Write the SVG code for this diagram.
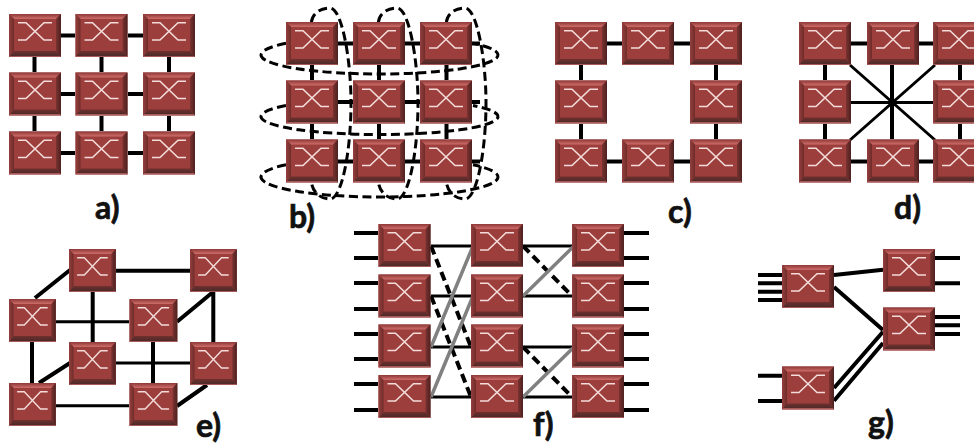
<svg xmlns="http://www.w3.org/2000/svg" xmlns:xlink="http://www.w3.org/1999/xlink" width="974" height="446" viewBox="0 0 974 446">
<style>
.k{stroke:#000;stroke-width:4;fill:none}
.t{stroke:#000;stroke-width:3;fill:none}
.e{stroke:#000;stroke-width:3;fill:none;stroke-dasharray:9 4.5}
.d{stroke:#000;stroke-width:4;fill:none;stroke-dasharray:9 5}
.g{stroke:#808080;stroke-width:3.5;fill:none}
.x{stroke:#f3dcd9;stroke-width:1.6;fill:none}
.l{font-family:Lato,"Open Sans",sans-serif;font-weight:700;font-size:32px;fill:#111;stroke:#111;stroke-width:.7}
</style>
<defs>
<linearGradient id="gt" x1="0" y1="0" x2="0" y2="1"><stop offset="0" stop-color="#8e3837"/><stop offset="1" stop-color="#cf6e6b"/></linearGradient>
<linearGradient id="gb" x1="0" y1="0" x2="0" y2="1"><stop offset="0" stop-color="#6f302e"/><stop offset=".75" stop-color="#4f2a29"/><stop offset=".8" stop-color="#a85a58"/><stop offset="1" stop-color="#a85a58"/></linearGradient>
<linearGradient id="gl" x1="0" y1="0" x2="1" y2="0"><stop offset="0" stop-color="#94403e"/><stop offset="1" stop-color="#6f2c2a"/></linearGradient>
<linearGradient id="gr" x1="0" y1="0" x2="1" y2="0"><stop offset="0" stop-color="#7a3230"/><stop offset="1" stop-color="#4d2120"/></linearGradient>
<g id="sw">
<rect width="52" height="43" fill="#9c3e3c"/>
<polygon points="0,0 52,0 47,5 5,5" fill="url(#gt)"/>
<polygon points="0,0 5,5 5,37 0,43" fill="url(#gl)"/>
<polygon points="52,0 47,5 47,37 52,43" fill="url(#gr)"/>
<polygon points="0,43 5,37 47,37 52,43" fill="url(#gb)"/>
<path class="x" d="M9 8.7H17L35 26H43M9 26H17L35 8.7H43"/>
</g>
<path id="vloop" class="e" d="M311.500 22C312 14 320 8 330 8C342 8 351 60 351 103C351 150 342 199 330 199C320 199 313 192 311.500 183"/>
</defs>
<g id="connectors">
<g id="conn-a"><path class="k" d="M61 35.500H75M128 35.500H143M61 94H75M128 94H143M61 153H75M128 153H143M34.500 57V72M101.500 57V72M169 57V72M34.500 116V131M101.500 116V131M169 116V131"/></g>
<g id="conn-b"><path class="k" d="M338 43.500H353M405 43.500H420M472 43.500H480M338 102H353M405 102H420M472 102H480M338 161.500H353M405 161.500H420M472 161.500H480M312 65V80M379 65V80M446.500 65V80M312 124V139M379 124V139M446.500 124V139"/>
<path class="e" d="M286 43.300A118.500 19 0 1 0 473 43.300"/>
<path class="e" d="M286 105.500A118.500 18 0 1 0 473 105.500"/>
<path class="e" d="M286 164.700A118.500 20 0 1 0 473 164.700"/>
<use xlink:href="#vloop"/><use xlink:href="#vloop" transform="translate(67,0)"/><use xlink:href="#vloop" transform="translate(135,0)"/></g>
<g id="conn-c"><path class="k" d="M607 43.500H622M674 43.500H690M607 161.500H622M674 161.500H690M581 65V80M716 65V80M581 124V139M716 124V139"/></g>
<g id="conn-d"><path class="k" d="M851 43.500H867M919 43.500H933M851 161.500H867M919 161.500H933M825 65V80M960 65V80M825 124V139M960 124V139M892 65V139"/><path class="t" d="M851 102.500H933M850 65L935 140M935 65L850 140"/></g>
<g id="conn-e"><path class="k" d="M35 298L70 270M116 270.700H190M92.700 292V342M177 321.700L213 292M213.300 292V342M32 342V383M39 383L70 363M153 342V383M177 406L207 385"/><path class="t" d="M56 321.700H129M116 363H190M56 405.700H129"/></g>
<g id="conn-f"><path class="k" d="M354 233H378M354 258H378M354 283H378M354 309H378M354 334H378M354 359H378M354 384H378M354 410H378M624 233H649M624 258H649M624 283H649M624 309H649M624 334H649M624 359H649M624 384H649M624 410H649"/>
<path class="t" d="M431 246H471M431 296H471M431 347H471M431 397H471M523 246H572M523 296H572M523 347H572M523 397H572"/>
<path class="d" d="M431 246L471 347M431 296L471 397M523 246L572 296M523 347L572 397"/>
<path class="g" d="M431 347L473 246M431 397L473 296M523 296L574 246M523 397L574 347"/></g>
<g id="conn-g"><path class="k" d="M758 275H782M758 283.300H782M758 291.700H782M758 300H782M758 375.700H782M758 401H782M935 258H960M935 283.300H960M935 317H960M935 325.300H960M935 334H960M834 275L883 269.700M834 287L883 330M834 388L883 331.700M834 400.700L883 343"/></g>
</g>
<g id="a1"><use xlink:href="#sw" transform="translate(9,14)"/></g>
<g id="a2"><use xlink:href="#sw" transform="translate(75.500,14)"/></g>
<g id="a3"><use xlink:href="#sw" transform="translate(143,14)"/></g>
<g id="a4"><use xlink:href="#sw" transform="translate(9,72.500)"/></g>
<g id="a5"><use xlink:href="#sw" transform="translate(75.500,72.500)"/></g>
<g id="a6"><use xlink:href="#sw" transform="translate(143,72.500)"/></g>
<g id="a7"><use xlink:href="#sw" transform="translate(9,131.500)"/></g>
<g id="a8"><use xlink:href="#sw" transform="translate(75.500,131.500)"/></g>
<g id="a9"><use xlink:href="#sw" transform="translate(143,131.500)"/></g>
<g id="b1"><use xlink:href="#sw" transform="translate(286,22)"/></g>
<g id="b2"><use xlink:href="#sw" transform="translate(353,22)"/></g>
<g id="b3"><use xlink:href="#sw" transform="translate(420,22)"/></g>
<g id="b4"><use xlink:href="#sw" transform="translate(286,80.500)"/></g>
<g id="b5"><use xlink:href="#sw" transform="translate(353,80.500)"/></g>
<g id="b6"><use xlink:href="#sw" transform="translate(420,80.500)"/></g>
<g id="b7"><use xlink:href="#sw" transform="translate(286,139.500)"/></g>
<g id="b8"><use xlink:href="#sw" transform="translate(353,139.500)"/></g>
<g id="b9"><use xlink:href="#sw" transform="translate(420,139.500)"/></g>
<g id="c1"><use xlink:href="#sw" transform="translate(555,22)"/></g>
<g id="c2"><use xlink:href="#sw" transform="translate(622,22)"/></g>
<g id="c3"><use xlink:href="#sw" transform="translate(690,22)"/></g>
<g id="c4"><use xlink:href="#sw" transform="translate(555,80.500)"/></g>
<g id="c6"><use xlink:href="#sw" transform="translate(690,80.500)"/></g>
<g id="c7"><use xlink:href="#sw" transform="translate(555,139.500)"/></g>
<g id="c8"><use xlink:href="#sw" transform="translate(622,139.500)"/></g>
<g id="c9"><use xlink:href="#sw" transform="translate(690,139.500)"/></g>
<g id="d1"><use xlink:href="#sw" transform="translate(799,22)"/></g>
<g id="d2"><use xlink:href="#sw" transform="translate(867,22)"/></g>
<g id="d3"><use xlink:href="#sw" transform="translate(933,22)"/></g>
<g id="d4"><use xlink:href="#sw" transform="translate(799,80.500)"/></g>
<g id="d6"><use xlink:href="#sw" transform="translate(933,80.500)"/></g>
<g id="d7"><use xlink:href="#sw" transform="translate(799,139.500)"/></g>
<g id="d8"><use xlink:href="#sw" transform="translate(867,139.500)"/></g>
<g id="d9"><use xlink:href="#sw" transform="translate(933,139.500)"/></g>
<g id="e1"><use xlink:href="#sw" transform="translate(69,249) scale(.9,1)"/></g>
<g id="e2"><use xlink:href="#sw" transform="translate(190,249) scale(.9,1)"/></g>
<g id="e3"><use xlink:href="#sw" transform="translate(9,299) scale(.9,1)"/></g>
<g id="e4"><use xlink:href="#sw" transform="translate(129.500,299) scale(.92,1)"/></g>
<g id="e5"><use xlink:href="#sw" transform="translate(69,342) scale(.9,1)"/></g>
<g id="e6"><use xlink:href="#sw" transform="translate(190,342) scale(.9,1)"/></g>
<g id="e7"><use xlink:href="#sw" transform="translate(9,383) scale(.9,1)"/></g>
<g id="e8"><use xlink:href="#sw" transform="translate(129.500,383) scale(.92,1)"/></g>
<g id="f1"><use xlink:href="#sw" transform="translate(378.500,224)"/></g>
<g id="f2"><use xlink:href="#sw" transform="translate(378.500,274.500)"/></g>
<g id="f3"><use xlink:href="#sw" transform="translate(378.500,324.500)"/></g>
<g id="f4"><use xlink:href="#sw" transform="translate(378.500,375)"/></g>
<g id="f5"><use xlink:href="#sw" transform="translate(471,224)"/></g>
<g id="f6"><use xlink:href="#sw" transform="translate(471,274.500)"/></g>
<g id="f7"><use xlink:href="#sw" transform="translate(471,324.500)"/></g>
<g id="f8"><use xlink:href="#sw" transform="translate(471,375)"/></g>
<g id="f9"><use xlink:href="#sw" transform="translate(572,224)"/></g>
<g id="f10"><use xlink:href="#sw" transform="translate(572,274.500)"/></g>
<g id="f11"><use xlink:href="#sw" transform="translate(572,324.500)"/></g>
<g id="f12"><use xlink:href="#sw" transform="translate(572,375)"/></g>
<g id="g1"><use xlink:href="#sw" transform="translate(782,265)"/></g>
<g id="g2"><use xlink:href="#sw" transform="translate(883,249)"/></g>
<g id="g3"><use xlink:href="#sw" transform="translate(883,307.500)"/></g>
<g id="g4"><use xlink:href="#sw" transform="translate(782,366.500)"/></g>
<g id="labels">
<text class="l" x="95" y="219">a)</text>
<text class="l" x="289" y="228">b)</text>
<text class="l" x="668" y="223">c)</text>
<text class="l" x="894" y="219">d)</text>
<text class="l" x="196" y="437">e)</text>
<text class="l" x="533" y="436">f)</text>
<text class="l" x="868" y="434">g)</text>
</g>
</svg>
